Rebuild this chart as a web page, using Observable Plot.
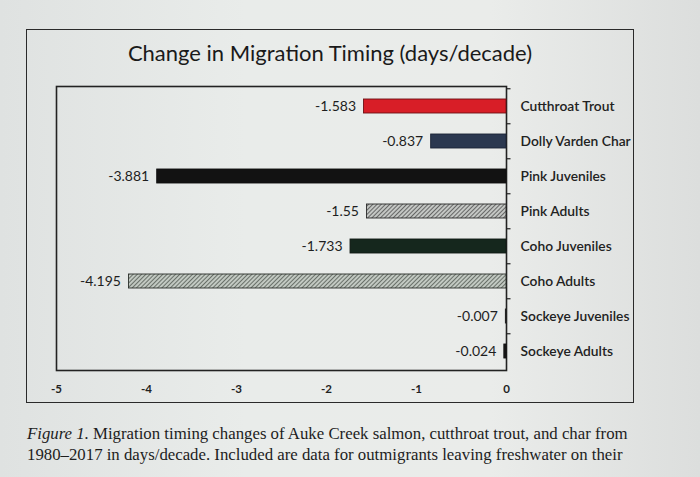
<!DOCTYPE html>
<html><head><meta charset="utf-8">
<script src="https://cdn.jsdelivr.net/npm/d3@7"></script>
<script src="https://cdn.jsdelivr.net/npm/@observablehq/plot@0.6"></script>
<style>
body{margin:0;width:700px;height:477px;overflow:hidden;position:relative;font-family:Lato,sans-serif;
 background:linear-gradient(90deg,#dfe2e1 0%,#e9ecea 35%,#eaecea 70%,#dcdedd 100%);}
#box{position:absolute;left:26px;top:29px;width:606px;height:372px;border:1.6px solid #2a2a2a;}
#title{position:absolute;left:26px;width:608px;top:40px;text-align:center;font-size:22px;line-height:26px;color:#1a1a1a;}
#chart{position:absolute;left:0;top:80px}
#caption{position:absolute;left:27px;top:423px;width:640px;font-family:"Liberation Serif",serif;font-size:16.8px;line-height:21px;color:#1d1d1d;white-space:nowrap}
</style></head>
<body>
<div id="box"></div>
<div id="title">Change in Migration Timing (days/decade)</div>
<div id="chart"></div>
<div id="caption"><i>Figure 1.</i> Migration timing changes of Auke Creek salmon, cutthroat trout, and char from<br>1980–2017 in days/decade. Included are data for outmigrants leaving freshwater on their</div>
<script>
const categories = ["Cutthroat Trout","Dolly Varden Char","Pink Juveniles","Pink Adults","Coho Juveniles","Coho Adults","Sockeye Juveniles","Sockeye Adults"];
const values = [-1.583,-0.837,-3.881,-1.55,-1.733,-4.195,-0.007,-0.024];
const fills = ["#d81e27","#2b3850","#121212","url(#hatchA)","#15271d","url(#hatchB)","#333333","#1a1a1a"];
const strokes = ["#6e1014","#1c2436","#111111","#2a2a2a","#111a14","#2a2f2a","#222222","#111111"];
const xTicks = [-5,-4,-3,-2,-1,0];

const data = categories.map((c,i)=>({cat:c, value:values[i], fill:fills[i], stroke:strokes[i]}));
const step = 284 / categories.length;

const chart = Plot.plot({
  width:700, height:320, marginLeft:56, marginRight:194, marginTop:6, marginBottom:30,
  style:{background:"transparent", fontFamily:"Lato, sans-serif", overflow:"visible"},
  x:{domain:[-5,0]},
  y:{domain:categories, paddingInner:0.6, paddingOuter:0.3, axis:null},
  marks:[
    Plot.frame({stroke:"#222", strokeWidth:1.6}),
    Plot.barX(data,{x:"value", y:"cat", fill:d=>d.fill, stroke:d=>d.stroke, strokeWidth:0.9}),
    Plot.ruleY(categories,{y:d=>d, x1:0, x2:0.05, dy:-step/2, stroke:"#222", strokeWidth:1.2}),
    Plot.text(data,{x:"value", y:"cat", text:d=>String(d.value), dx:-8, textAnchor:"end", fontSize:14, fill:"#1e1e1e"}),
    Plot.text(categories,{x:0, y:d=>d, text:d=>d, dx:14, textAnchor:"start", fontSize:13.8, fontWeight:600, fill:"#222"}),
    Plot.axisX({ticks:xTicks, tickSize:0, tickPadding:14, fontSize:11.5, fontWeight:700, fill:"#222", tickFormat:d=>d===0?"0":"-"+Math.abs(d), label:null})
  ]
});
const defs = document.createElementNS("http://www.w3.org/2000/svg","defs");
defs.innerHTML = `
<pattern id="hatchA" patternUnits="userSpaceOnUse" width="3" height="3" patternTransform="rotate(45)">
  <rect width="3" height="3" fill="#c4c7c4"/><line x1="0" y1="0" x2="0" y2="3" stroke="#333" stroke-width="1.3"/>
</pattern>
<pattern id="hatchB" patternUnits="userSpaceOnUse" width="3" height="3" patternTransform="rotate(45)">
  <rect width="3" height="3" fill="#c2c9c2"/><line x1="0" y1="0" x2="0" y2="3" stroke="#384038" stroke-width="1.3"/>
</pattern>`;
chart.insertBefore(defs, chart.firstChild);
document.getElementById("chart").appendChild(chart);
</script>
</body></html>
